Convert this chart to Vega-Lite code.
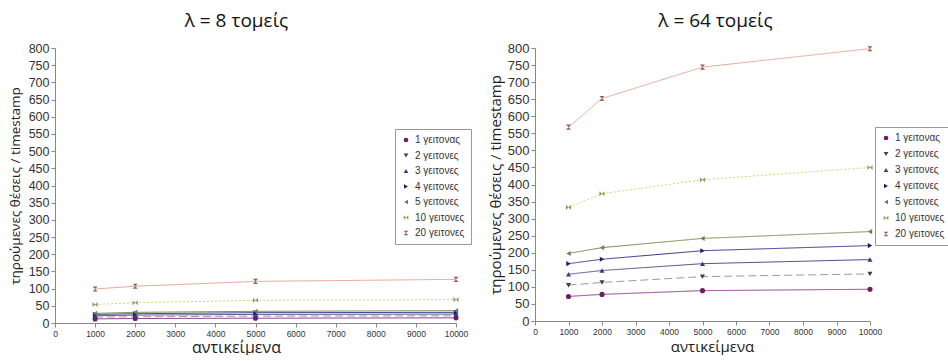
{
  "$schema": "https://vega.github.io/schema/vega-lite/v6.json",
  "background": "white",
  "padding": {"left": 8, "top": 12, "right": 0, "bottom": 0},
  "spacing": 16,
  "config": {
    "view": {"stroke": null},
    "font": "Liberation Sans",
    "title": {"font": "Open Sans", "fontSize": 19, "fontWeight": "normal", "color": "#111", "offset": 11},
    "axis": {
      "domainColor": "#888",
      "tickColor": "#888",
      "tickSize": 4,
      "grid": false,
      "labelColor": "#333",
      "titleColor": "#222",
      "titleFont": "Open Sans",
      "titleFontWeight": "normal"
    },
    "legend": {
      "title": null,
      "strokeColor": "#999",
      "padding": 6,
      "labelFontSize": 10,
      "labelColor": "#333",
      "symbolSize": 22,
      "symbolStrokeWidth": 0
    }
  },
  "data": {
    "values": [
      {"lambda": 8, "objects": 1000, "series": "1 γειτονας", "value": 12},
      {"lambda": 8, "objects": 2000, "series": "1 γειτονας", "value": 13},
      {"lambda": 8, "objects": 5000, "series": "1 γειτονας", "value": 14},
      {"lambda": 8, "objects": 10000, "series": "1 γειτονας", "value": 15},
      {"lambda": 8, "objects": 1000, "series": "2 γειτονες", "value": 17},
      {"lambda": 8, "objects": 2000, "series": "2 γειτονες", "value": 18},
      {"lambda": 8, "objects": 5000, "series": "2 γειτονες", "value": 20},
      {"lambda": 8, "objects": 10000, "series": "2 γειτονες", "value": 21},
      {"lambda": 8, "objects": 1000, "series": "3 γειτονες", "value": 21},
      {"lambda": 8, "objects": 2000, "series": "3 γειτονες", "value": 23},
      {"lambda": 8, "objects": 5000, "series": "3 γειτονες", "value": 25},
      {"lambda": 8, "objects": 10000, "series": "3 γειτονες", "value": 26},
      {"lambda": 8, "objects": 1000, "series": "4 γειτονες", "value": 25},
      {"lambda": 8, "objects": 2000, "series": "4 γειτονες", "value": 27},
      {"lambda": 8, "objects": 5000, "series": "4 γειτονες", "value": 30},
      {"lambda": 8, "objects": 10000, "series": "4 γειτονες", "value": 31},
      {"lambda": 8, "objects": 1000, "series": "5 γειτονες", "value": 28},
      {"lambda": 8, "objects": 2000, "series": "5 γειτονες", "value": 31},
      {"lambda": 8, "objects": 5000, "series": "5 γειτονες", "value": 34},
      {"lambda": 8, "objects": 10000, "series": "5 γειτονες", "value": 36},
      {"lambda": 8, "objects": 1000, "series": "10 γειτονες", "value": 54},
      {"lambda": 8, "objects": 2000, "series": "10 γειτονες", "value": 59},
      {"lambda": 8, "objects": 5000, "series": "10 γειτονες", "value": 66},
      {"lambda": 8, "objects": 10000, "series": "10 γειτονες", "value": 68},
      {"lambda": 8, "objects": 1000, "series": "20 γειτονες", "value": 99},
      {"lambda": 8, "objects": 2000, "series": "20 γειτονες", "value": 107},
      {"lambda": 8, "objects": 5000, "series": "20 γειτονες", "value": 121},
      {"lambda": 8, "objects": 10000, "series": "20 γειτονες", "value": 127},
      {"lambda": 64, "objects": 1000, "series": "1 γειτονας", "value": 72},
      {"lambda": 64, "objects": 2000, "series": "1 γειτονας", "value": 78},
      {"lambda": 64, "objects": 5000, "series": "1 γειτονας", "value": 89},
      {"lambda": 64, "objects": 10000, "series": "1 γειτονας", "value": 93},
      {"lambda": 64, "objects": 1000, "series": "2 γειτονες", "value": 105},
      {"lambda": 64, "objects": 2000, "series": "2 γειτονες", "value": 113},
      {"lambda": 64, "objects": 5000, "series": "2 γειτονες", "value": 130},
      {"lambda": 64, "objects": 10000, "series": "2 γειτονες", "value": 138},
      {"lambda": 64, "objects": 1000, "series": "3 γειτονες", "value": 137},
      {"lambda": 64, "objects": 2000, "series": "3 γειτονες", "value": 148},
      {"lambda": 64, "objects": 5000, "series": "3 γειτονες", "value": 168},
      {"lambda": 64, "objects": 10000, "series": "3 γειτονες", "value": 180},
      {"lambda": 64, "objects": 1000, "series": "4 γειτονες", "value": 168},
      {"lambda": 64, "objects": 2000, "series": "4 γειτονες", "value": 181},
      {"lambda": 64, "objects": 5000, "series": "4 γειτονες", "value": 206},
      {"lambda": 64, "objects": 10000, "series": "4 γειτονες", "value": 221},
      {"lambda": 64, "objects": 1000, "series": "5 γειτονες", "value": 198},
      {"lambda": 64, "objects": 2000, "series": "5 γειτονες", "value": 215},
      {"lambda": 64, "objects": 5000, "series": "5 γειτονες", "value": 242},
      {"lambda": 64, "objects": 10000, "series": "5 γειτονες", "value": 262},
      {"lambda": 64, "objects": 1000, "series": "10 γειτονες", "value": 333},
      {"lambda": 64, "objects": 2000, "series": "10 γειτονες", "value": 373},
      {"lambda": 64, "objects": 5000, "series": "10 γειτονες", "value": 414},
      {"lambda": 64, "objects": 10000, "series": "10 γειτονες", "value": 450},
      {"lambda": 64, "objects": 1000, "series": "20 γειτονες", "value": 568},
      {"lambda": 64, "objects": 2000, "series": "20 γειτονες", "value": 652},
      {"lambda": 64, "objects": 5000, "series": "20 γειτονες", "value": 744},
      {"lambda": 64, "objects": 10000, "series": "20 γειτονες", "value": 798}
    ]
  },
  "resolve": {
    "scale": {"fill": "independent", "shape": "independent", "stroke": "independent", "strokeDash": "independent"},
    "legend": {"fill": "independent", "shape": "independent", "stroke": "independent", "strokeDash": "independent"}
  },
  "hconcat": [
    {
      "title": {"text": "λ = 8 τομείς", "dx": -19},
      "width": 401,
      "height": 275,
      "transform": [{"filter": "datum.lambda == 8"}],
      "encoding": {
        "x": {"field": "objects", "type": "quantitative", "title": "αντικείμενα",
              "scale": {"domain": [0, 10000], "nice": false},
              "axis": {"values": [0,1000,2000,3000,4000,5000,6000,7000,8000,9000,10000], "format": "d", "labelFontSize": 8.5, "titleFontSize": 16, "titleX": 181, "titleY": 29, "titleBaseline": "alphabetic", "labelFlush": false}},
        "y": {"field": "value", "type": "quantitative", "title": "τηρούμενες θέσεις / timestamp",
              "scale": {"domain": [0, 800], "nice": false},
              "axis": {"values": [0,50,100,150,200,250,300,350,400,450,500,550,600,650,700,750,800], "labelFontSize": 12.5, "titleFontSize": 13.5, "titlePadding": 6, "labelFlush": false}}
      },
      "layer": [
        {
          "mark": {"type": "line", "strokeWidth": 1},
          "encoding": {
            "stroke": {"field": "series", "type": "nominal",
                       "legend": {"orient": "none", "legendX": 340, "legendY": 81, "rowPadding": 5.5},
                       "scale": {"domain": ["1 γειτονας","2 γειτονες","3 γειτονες","4 γειτονες","5 γειτονες","10 γειτονες","20 γειτονες"],
                                 "range": ["#8a3a8a","#9a9a9a","#50508a","#3a3a8a","#7a8a50","#d0d870","#e8a898"]}},
            "strokeDash": {"field": "series", "type": "nominal",
                           "legend": {"orient": "none", "legendX": 340, "legendY": 81, "rowPadding": 5.5},
                           "scale": {"domain": ["1 γειτονας","2 γειτονες","3 γειτονες","4 γειτονες","5 γειτονες","10 γειτονες","20 γειτονες"],
                                     "range": [[1,0],[8,4],[1,0],[1,0],[1,0],[2,2],[1,0]]}}
          }
        },
        {
          "mark": {"type": "point", "filled": true, "size": 26, "opacity": 1},
          "encoding": {
            "fill": {"field": "series", "type": "nominal",
                     "scale": {"domain": ["1 γειτονας","2 γειτονες","3 γειτονες","4 γειτονες","5 γειτονες","10 γειτονες","20 γειτονες"],
                               "range": ["#6b1f5f","#3f3f3f","#3b3b8c","#1c1c78","#6f7f4f","#8a9a5a","#9a5a5a"]},
                     "legend": {"orient": "none", "legendX": 340, "legendY": 81, "rowPadding": 5.5}},
            "shape": {"field": "series", "type": "nominal",
                      "scale": {"domain": ["1 γειτονας","2 γειτονες","3 γειτονες","4 γειτονες","5 γειτονες","10 γειτονες","20 γειτονες"],
                                "range": ["circle","triangle-down","triangle-up","triangle-right","triangle-left","M-1,-1L-1,1L1,-1L1,1Z","M-1,-1L1,-1L-1,1L1,1Z"]},
                      "legend": {"orient": "none", "legendX": 340, "legendY": 81, "rowPadding": 5.5}}
          }
        }
      ]
    },
    {
      "title": {"text": "λ = 64 τομείς", "dx": 13},
      "width": 335,
      "height": 273,
      "transform": [{"filter": "datum.lambda == 64"}],
      "encoding": {
        "x": {"field": "objects", "type": "quantitative", "title": "αντικείμενα",
              "scale": {"domain": [0, 10000], "nice": false},
              "axis": {"values": [0,1000,2000,3000,4000,5000,6000,7000,8000,9000,10000], "format": "d", "labelFontSize": 8.5, "titleFontSize": 15, "titleX": 177, "titleY": 30, "titleBaseline": "alphabetic", "labelFlush": false}},
        "y": {"field": "value", "type": "quantitative", "title": "τηρούμενες θέσεις / timestamp",
              "scale": {"domain": [0, 800], "nice": false},
              "axis": {"values": [0,50,100,150,200,250,300,350,400,450,500,550,600,650,700,750,800], "labelFontSize": 13, "titleFontSize": 15, "titlePadding": 4, "labelFlush": false}}
      },
      "layer": [
        {
          "mark": {"type": "line", "strokeWidth": 1},
          "encoding": {
            "stroke": {"field": "series", "type": "nominal",
                       "legend": {"orient": "none", "legendX": 340, "legendY": 79, "rowPadding": 6},
                       "scale": {"domain": ["1 γειτονας","2 γειτονες","3 γειτονες","4 γειτονες","5 γειτονες","10 γειτονες","20 γειτονες"],
                                 "range": ["#8a3a8a","#9a9a9a","#50508a","#3a3a8a","#7a8a50","#d0d870","#e8a898"]}},
            "strokeDash": {"field": "series", "type": "nominal",
                           "legend": {"orient": "none", "legendX": 340, "legendY": 79, "rowPadding": 6},
                           "scale": {"domain": ["1 γειτονας","2 γειτονες","3 γειτονες","4 γειτονες","5 γειτονες","10 γειτονες","20 γειτονες"],
                                     "range": [[1,0],[8,4],[1,0],[1,0],[1,0],[2,2],[1,0]]}}
          }
        },
        {
          "mark": {"type": "point", "filled": true, "size": 26, "opacity": 1},
          "encoding": {
            "fill": {"field": "series", "type": "nominal",
                     "scale": {"domain": ["1 γειτονας","2 γειτονες","3 γειτονες","4 γειτονες","5 γειτονες","10 γειτονες","20 γειτονες"],
                               "range": ["#6b1f5f","#3f3f3f","#3b3b8c","#1c1c78","#6f7f4f","#8a9a5a","#9a5a5a"]},
                     "legend": {"orient": "none", "legendX": 340, "legendY": 79, "rowPadding": 6}},
            "shape": {"field": "series", "type": "nominal",
                      "scale": {"domain": ["1 γειτονας","2 γειτονες","3 γειτονες","4 γειτονες","5 γειτονες","10 γειτονες","20 γειτονες"],
                                "range": ["circle","triangle-down","triangle-up","triangle-right","triangle-left","M-1,-1L-1,1L1,-1L1,1Z","M-1,-1L1,-1L-1,1L1,1Z"]},
                      "legend": {"orient": "none", "legendX": 340, "legendY": 79, "rowPadding": 6}}
          }
        }
      ]
    }
  ]
}
